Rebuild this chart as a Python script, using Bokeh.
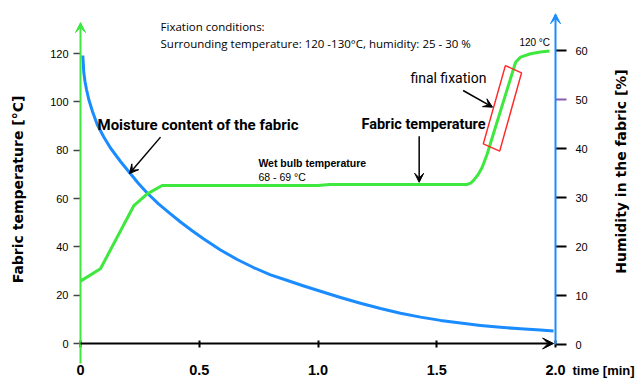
import math
from bokeh.plotting import figure
from bokeh.models import Range1d, LinearAxis, FixedTicker, Arrow, VeeHead, Label
from bokeh.embed import file_html
from bokeh.resources import INLINE

# ---------------- data ----------------
time_temp = [0.0, 0.084, 0.225, 0.281, 0.344, 0.6, 1.0, 1.05, 1.4, 1.628, 1.645,
             1.656, 1.675, 1.691, 1.712, 1.832, 1.853, 1.895, 1.937, 1.975]
fabric_temp = [25.8, 30.9, 57.1, 61.9, 65.4, 65.4, 65.4, 65.8, 65.8, 65.8, 66.5,
               67.6, 70.0, 72.8, 78.3, 116.4, 118.5, 119.9, 120.6, 121.0]

time_hum = [0.0097, 0.0139, 0.0189, 0.0253, 0.0349, 0.0505, 0.0703, 0.0981, 0.1263,
            0.1684, 0.2105, 0.2442, 0.2808, 0.3284, 0.3789, 0.4211, 0.4716, 0.5192,
            0.5895, 0.6598, 0.7284, 0.8, 0.8716, 0.9402, 1.0105, 1.0947, 1.1789,
            1.2632, 1.3474, 1.4316, 1.5158, 1.6, 1.6842, 1.7684, 1.8526, 1.9368, 1.9916]
humidity = [58.98, 55.51, 53.67, 52.04, 50.0, 47.55, 44.9, 42.35, 40.1,
            37.35, 34.84, 32.86, 30.92, 28.71, 26.67, 25.0, 23.16, 21.53,
            19.29, 17.35, 15.71, 14.22, 13.06, 11.94, 10.86, 9.59, 8.41,
            7.35, 6.39, 5.59, 4.92, 4.37, 3.9, 3.51, 3.2, 2.94, 2.76]

temp_ticks = [0, 20, 40, 60, 80, 100, 120]
hum_ticks = [0, 10, 20, 30, 40, 60]
hum_ticks_marked = [50]
time_ticks = [0, 0.5, 1.0, 1.5, 2.0]
time_tick_labels = ["0", "0.5", "1.0", "1.5", "2.0"]

# ---------------- layout constants ----------------
W, H = 637, 378
PX_T = 237.5          # px per minute
T0_PAGE = 80          # page x of t = 0
PX_TEMP = 290 / 120   # px per deg C
Y0_PAGE = 343         # page y of 0 deg C
PX_HUM = 4.9          # px per % humidity
H0_PAGE = 344

GREEN = "#3ee83e"
BLUE = "#1a8cff"
RED = "#ff2a2a"
TICKFONT = "Liberation Sans"

x_range = Range1d((0 - T0_PAGE) / PX_T, (W - T0_PAGE) / PX_T)
y_range = Range1d((Y0_PAGE - H) / PX_TEMP, Y0_PAGE / PX_TEMP)
hum_range = Range1d((H0_PAGE - H) / PX_HUM, H0_PAGE / PX_HUM)

p = figure(width=W, height=H, x_range=x_range, y_range=y_range,
           x_axis_type=None, y_axis_type=None, output_backend="svg",
           toolbar_location=None, min_border=0, outline_line_color=None)
p.extra_y_ranges = {"hum": hum_range}

# ---------------- axes ----------------
xaxis = LinearAxis(fixed_location=0, ticker=FixedTicker(ticks=time_ticks),
                   major_label_overrides={t: l for t, l in zip(time_ticks, time_tick_labels)},
                   axis_line_color=None, major_tick_in=3, major_tick_out=4,
                   major_tick_line_color="black", major_tick_line_width=2,
                   minor_tick_line_color=None, major_label_standoff=17,
                   major_label_text_font=TICKFONT, major_label_text_font_style="bold",
                   major_label_text_font_size="14.5px", major_label_text_color="black")
p.add_layout(xaxis, "below")

yaxis = LinearAxis(fixed_location=0, ticker=FixedTicker(ticks=temp_ticks),
                   axis_line_color=None, major_tick_in=0, major_tick_out=7,
                   major_tick_line_color="#444444", major_tick_line_width=1.5,
                   minor_tick_line_color=None, major_label_standoff=5,
                   major_label_text_font=TICKFONT, major_label_text_font_size="11px",
                   major_label_text_color="black",
                   axis_label="Fabric temperature [°C]", axis_label_standoff=21,
                   axis_label_text_font="DejaVu Sans", axis_label_text_font_style="bold",
                   axis_label_text_font_size="14px", axis_label_text_color="black")
p.add_layout(yaxis, "left")

raxis = LinearAxis(fixed_location=2.0, y_range_name="hum", ticker=FixedTicker(ticks=hum_ticks),
                   axis_line_color=None, major_tick_in=0, major_tick_out=11,
                   major_tick_line_color="black", major_tick_line_width=2,
                   minor_tick_line_color=None, major_label_standoff=9,
                   major_label_text_font=TICKFONT, major_label_text_font_size="11px",
                   major_label_text_color="black")
p.add_layout(raxis, "right")

raxis2 = LinearAxis(fixed_location=2.0, y_range_name="hum", ticker=FixedTicker(ticks=hum_ticks_marked),
                    axis_line_color=None, major_tick_in=0, major_tick_out=11,
                    major_tick_line_color="#8a5cb0", major_tick_line_width=2,
                    minor_tick_line_color=None, major_label_standoff=9,
                    major_label_text_font=TICKFONT, major_label_text_font_size="11px",
                    major_label_text_color="black")
p.add_layout(raxis2, "right")

# axis lines with arrow heads
p.add_layout(Arrow(x_start=0, y_start=-8.3, x_end=0, y_end=132.8,
                   line_color=GREEN, line_width=2,
                   end=VeeHead(size=10, fill_color=GREEN, line_color=GREEN)))
p.add_layout(Arrow(x_start=0, y_start=0, x_end=1.992, y_end=0,
                   line_color="black", line_width=2,
                   end=VeeHead(size=11, fill_color="black", line_color="black")))

# ---------------- series ----------------
p.line(time_hum, humidity, y_range_name="hum", line_color=BLUE, line_width=3,
       line_join="round")
p.line(time_temp, fabric_temp, line_color=GREEN, line_width=3, line_join="round")

p.add_layout(Arrow(x_start=2.0, y_start=0, x_end=2.0, y_end=67.5, y_range_name="hum",
                   line_color=BLUE, line_width=2,
                   end=VeeHead(size=10, fill_color=BLUE, line_color=BLUE)))

# final fixation box
box_t = [1.789, 1.857, 1.765, 1.696]
box_T = [115.0, 112.0, 79.6, 82.6]
p.patch(box_t, box_T, fill_alpha=0, line_color=RED, line_width=1.5)

# ---------------- annotations ----------------
def lab(t, T, text, font, size, style="normal", **kw):
    p.add_layout(Label(x=t, y=T, text=text, text_font=font, text_font_size=size,
                       text_font_style=style, text_baseline="middle",
                       text_color="black", **kw))

lab(0.337, 131.2, "Fixation conditions:", "Open Sans", "11.5px")
lab(0.337, 124.1, "Surrounding temperature: 120 -130°C,  humidity: 25 - 30 %", "Open Sans", "11.5px")
lab(0.0716, 90.6, "Moisture content of the fabric", "Roboto", "15px", "bold")
lab(1.183, 90.6, "Fabric temperature", "Roboto", "14.5px", "bold")
lab(1.389, 109.7, "final fixation", "Roboto", "14px")
lab(0.749, 74.5, "Wet bulb temperature", "Liberation Sans", "10.5px", "bold")
lab(0.749, 68.7, "68 - 69 °C", "Liberation Sans", "10.5px")
lab(1.848, 124.5, "120 °C", "Liberation Sans", "10px")
lab((572 - T0_PAGE) / PX_T, -11.2, "time [min]", TICKFONT, "13px", "bold")
lab((620 - T0_PAGE) / PX_T, (Y0_PAGE - 171) / PX_TEMP, "Humidity in the fabric [%]",
    "DejaVu Sans", "14px", "bold", angle=math.pi / 2, text_align="center")

arrow_specs = [((0.337, 85.4), (0.206, 70.3)),
               ((1.426, 85.8), (1.426, 66.7)),
               ((1.611, 104.7), (1.735, 97.8))]
for (ts, ys), (te, ye) in arrow_specs:
    p.add_layout(Arrow(x_start=ts, y_start=ys, x_end=te, y_end=ye,
                       line_color="black", line_width=1.5,
                       end=VeeHead(size=9, fill_color="black", line_color="black")))

open("out.html", "w").write(file_html(p, INLINE))
